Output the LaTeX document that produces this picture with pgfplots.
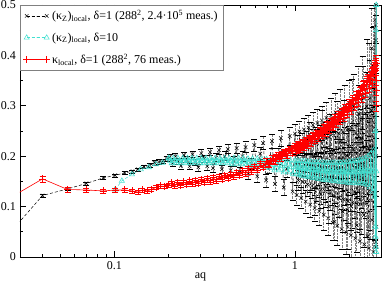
\documentclass[border=0pt]{standalone}
\usepackage{fontspec}
\setmainfont{Liberation Serif}
\usepackage{pgfplots}
\usepackage{pgfplotstable}
\pgfplotsset{compat=1.18}
\definecolor{turq}{RGB}{64,224,208}

\pgfplotstableread{
x y e
0.0218 0.014 0.005
0.040 0.122 0.003
0.055 0.135 0.003
0.070 0.146 0.003
0.087 0.157 0.003
0.101 0.162 0.003
0.114 0.167 0.003
0.126 0.170 0.003
0.135 0.174 0.003
0.146 0.179 0.003
0.157 0.182 0.004
0.167 0.187 0.004
0.177 0.189 0.004
0.186 0.190 0.004
0.195 0.194 0.005
0.203 0.198 0.005
0.210 0.186 0.005
0.218 0.200 0.005
0.226 0.190 0.005
0.234 0.181 0.006
0.243 0.202 0.006
0.252 0.193 0.006
0.261 0.180 0.006
0.271 0.204 0.006
0.281 0.188 0.006
0.292 0.178 0.007
0.303 0.206 0.007
0.315 0.195 0.007
0.327 0.180 0.007
0.339 0.208 0.007
0.352 0.176 0.008
0.366 0.197 0.008
0.380 0.212 0.008
0.394 0.174 0.008
0.409 0.200 0.009
0.425 0.214 0.009
0.441 0.172 0.009
0.458 0.190 0.009
0.476 0.216 0.010
0.494 0.168 0.010
0.513 0.200 0.010
0.533 0.218 0.011
0.553 0.165 0.011
0.574 0.185 0.011
0.596 0.222 0.012
0.619 0.160 0.012
0.643 0.205 0.012
0.667 0.226 0.013
0.693 0.152 0.013
0.720 0.180 0.014
0.747 0.230 0.014
0.776 0.145 0.015
0.805 0.200 0.015
0.836 0.236 0.016
0.868 0.138 0.016
0.902 0.175 0.017
0.936 0.240 0.018
0.972 0.130 0.018
1.000 0.245 0.019
1.012 0.185 0.019
1.023 0.123 0.020
1.035 0.222 0.020
1.047 0.152 0.020
1.060 0.249 0.021
1.072 0.184 0.021
1.084 0.117 0.021
1.096 0.224 0.022
1.109 0.149 0.022
1.122 0.253 0.022
1.135 0.183 0.023
1.148 0.110 0.023
1.161 0.226 0.023
1.175 0.144 0.024
1.189 0.257 0.024
1.202 0.181 0.024
1.216 0.104 0.025
1.230 0.228 0.025
1.245 0.141 0.025
1.259 0.262 0.026
1.274 0.180 0.026
1.288 0.097 0.026
1.303 0.230 0.027
1.318 0.137 0.027
1.334 0.266 0.027
1.349 0.180 0.028
1.365 0.091 0.028
1.380 0.233 0.028
1.396 0.134 0.029
1.413 0.271 0.029
1.429 0.178 0.030
1.445 0.084 0.030
1.462 0.236 0.031
1.479 0.130 0.031
1.496 0.276 0.032
1.514 0.177 0.032
1.531 0.077 0.033
1.549 0.238 0.033
1.567 0.126 0.034
1.585 0.281 0.034
1.603 0.176 0.035
1.622 0.068 0.035
1.641 0.241 0.036
1.660 0.121 0.036
1.679 0.287 0.037
1.698 0.176 0.037
1.718 0.062 0.038
1.738 0.245 0.038
1.758 0.117 0.039
1.778 0.293 0.039
1.799 0.176 0.040
1.820 0.055 0.040
1.841 0.248 0.041
1.862 0.114 0.042
1.884 0.299 0.042
1.905 0.175 0.043
1.928 0.049 0.044
1.950 0.252 0.044
1.972 0.111 0.045
1.995 0.305 0.046
2.018 0.175 0.047
2.042 0.043 0.048
2.065 0.256 0.049
2.089 0.108 0.050
2.113 0.312 0.051
2.138 0.176 0.052
2.163 0.037 0.053
2.188 0.261 0.054
2.213 0.105 0.055
2.239 0.322 0.056
2.265 0.178 0.057
2.291 0.031 0.058
2.317 0.271 0.059
2.344 0.105 0.060
2.371 0.337 0.062
2.399 0.183 0.063
2.427 0.025 0.064
2.455 0.285 0.066
2.483 0.106 0.067
2.512 0.364 0.069
2.541 0.196 0.071
2.570 0.017 0.073
2.600 0.315 0.075
2.630 0.112 0.077
2.661 0.414 0.079
2.692 0.220 0.081
2.723 0.010 0.084
2.754 0.370 0.087
2.786 0.126 0.090
2.800 0.460 0.095
2.810 0.020 0.100
2.818 0.500 0.100
2.825 0.250 0.100
2.828 0.020 0.100
}\blackdata

\pgfplotstableread{
x y e
1.205 0.243 0.024
1.240 0.157 0.025
1.270 0.200 0.026
1.300 0.109 0.027
1.330 0.226 0.027
1.360 0.171 0.028
1.390 0.125 0.029
1.420 0.262 0.030
1.450 0.188 0.030
1.480 0.139 0.031
1.510 0.217 0.032
1.540 0.100 0.033
1.570 0.249 0.034
1.600 0.155 0.035
1.630 0.211 0.036
1.660 0.070 0.036
1.690 0.176 0.037
1.720 0.272 0.038
1.750 0.118 0.039
1.780 0.229 0.039
1.810 0.194 0.040
1.840 0.090 0.041
1.870 0.269 0.042
1.900 0.145 0.043
1.930 0.201 0.044
1.960 0.060 0.045
1.990 0.253 0.046
2.020 0.170 0.047
2.050 0.101 0.048
2.080 0.302 0.050
2.110 0.214 0.051
2.140 0.129 0.052
2.170 0.246 0.053
2.200 0.063 0.054
2.230 0.183 0.055
2.260 0.284 0.057
2.290 0.114 0.058
2.320 0.235 0.059
2.350 0.157 0.060
2.380 0.316 0.062
2.410 0.083 0.063
2.440 0.218 0.065
2.470 0.142 0.066
2.500 0.299 0.068
2.530 0.041 0.070
2.560 0.216 0.072
2.590 0.350 0.074
2.620 0.130 0.076
2.650 0.291 0.078
2.680 0.073 0.080
2.710 0.373 0.083
2.740 0.211 0.086
2.770 0.470 0.089
2.790 0.125 0.092
2.800 0.330 0.095
2.810 0.030 0.100
2.815 0.430 0.100
2.820 0.200 0.100
2.825 0.380 0.100
2.828 0.060 0.100
}\blackextra

\pgfplotstableread{
x y
0.101 0.134
0.110 0.151
0.125 0.164
0.140 0.174
0.155 0.178
0.170 0.184
0.185 0.187
0.200 0.196
}\cyanlow

\pgfplotstableread{
x y
0.200 0.196
0.204 0.191
0.208 0.186
0.212 0.196
0.216 0.191
0.221 0.186
0.225 0.196
0.230 0.191
0.234 0.186
0.239 0.196
0.244 0.191
0.249 0.186
0.254 0.196
0.259 0.191
0.264 0.186
0.269 0.196
0.275 0.191
0.280 0.186
0.286 0.196
0.291 0.191
0.297 0.186
0.303 0.196
0.309 0.191
0.316 0.186
0.322 0.196
0.328 0.191
0.335 0.186
0.342 0.196
0.348 0.191
0.355 0.186
0.362 0.196
0.370 0.191
0.377 0.186
0.385 0.196
0.392 0.191
0.400 0.186
0.408 0.196
0.416 0.191
0.425 0.186
0.433 0.196
0.442 0.191
0.451 0.184
0.460 0.196
0.469 0.190
0.478 0.184
0.488 0.196
0.498 0.190
0.508 0.184
0.518 0.196
0.528 0.190
0.539 0.184
0.550 0.195
0.561 0.188
0.572 0.181
0.583 0.195
0.595 0.188
0.607 0.181
0.619 0.195
0.631 0.188
0.644 0.181
0.657 0.194
0.670 0.185
0.683 0.177
0.697 0.194
0.711 0.185
0.725 0.177
0.740 0.194
0.755 0.182
0.770 0.172
0.785 0.193
0.801 0.182
0.817 0.172
0.833 0.193
0.850 0.180
0.867 0.168
0.884 0.192
0.902 0.180
0.920 0.168
0.938 0.192
0.957 0.178
0.976 0.165
1.000 0.191
1.012 0.178
1.023 0.164
1.035 0.191
1.047 0.177
1.060 0.163
1.072 0.190
1.084 0.176
1.096 0.161
1.109 0.190
1.122 0.175
1.135 0.160
1.148 0.190
1.161 0.174
1.175 0.159
1.189 0.189
1.202 0.174
1.216 0.158
1.230 0.189
1.245 0.173
1.259 0.157
1.274 0.188
1.288 0.172
1.303 0.156
1.318 0.188
1.334 0.172
1.349 0.155
1.365 0.188
1.380 0.171
1.396 0.154
1.413 0.188
1.429 0.170
1.445 0.153
1.462 0.187
1.479 0.170
1.496 0.152
1.514 0.187
1.531 0.169
1.549 0.152
1.567 0.187
1.585 0.169
1.603 0.151
1.622 0.187
1.641 0.168
1.660 0.150
1.679 0.187
1.698 0.168
1.718 0.150
1.738 0.187
1.758 0.168
1.778 0.149
1.799 0.187
1.820 0.168
1.841 0.149
1.862 0.188
1.884 0.168
1.905 0.148
1.928 0.188
1.950 0.168
1.972 0.147
1.995 0.189
2.018 0.168
2.042 0.147
2.065 0.190
2.089 0.168
2.113 0.147
2.138 0.190
2.163 0.168
2.188 0.146
2.213 0.191
2.239 0.169
2.265 0.146
2.291 0.193
2.317 0.169
2.344 0.146
2.371 0.194
2.399 0.170
2.427 0.145
2.455 0.196
2.483 0.170
2.512 0.143
2.541 0.200
2.570 0.170
2.600 0.138
2.630 0.205
2.661 0.170
2.692 0.130
2.723 0.212
2.754 0.120
2.786 0.060
2.790 0.250
2.800 0.040
2.805 0.350
2.810 0.020
2.815 0.450
2.820 0.010
2.825 0.500
2.828 0.170
}\cyandata

\pgfplotstableread{
x y e
0.0218 0.100 0.006
0.040 0.155 0.006
0.055 0.134 0.005
0.070 0.133 0.004
0.087 0.131 0.004
0.101 0.133 0.004
0.114 0.133 0.004
0.126 0.131 0.004
0.135 0.129 0.004
0.143 0.133 0.004
0.152 0.131 0.004
0.160 0.134 0.004
0.170 0.138 0.004
0.180 0.141 0.004
0.190 0.140 0.004
0.200 0.143 0.004
0.208 0.147 0.004
0.216 0.141 0.004
0.224 0.148 0.004
0.233 0.142 0.004
0.242 0.149 0.004
0.251 0.144 0.004
0.261 0.151 0.004
0.271 0.145 0.004
0.281 0.152 0.004
0.292 0.146 0.004
0.303 0.154 0.004
0.315 0.148 0.004
0.327 0.156 0.004
0.339 0.149 0.004
0.352 0.158 0.004
0.366 0.151 0.004
0.380 0.160 0.004
0.394 0.154 0.004
0.409 0.162 0.004
0.425 0.156 0.004
0.441 0.165 0.004
0.458 0.159 0.004
0.476 0.168 0.004
0.494 0.162 0.004
0.513 0.172 0.004
0.533 0.165 0.004
0.553 0.176 0.004
0.574 0.169 0.004
0.596 0.180 0.004
0.619 0.173 0.004
0.643 0.185 0.004
0.667 0.178 0.004
0.693 0.190 0.005
0.720 0.183 0.005
0.747 0.196 0.005
0.776 0.189 0.005
0.805 0.202 0.005
0.836 0.195 0.005
0.868 0.208 0.005
0.902 0.201 0.005
0.936 0.214 0.005
0.972 0.206 0.005
1.000 0.220 0.005
1.023 0.210 0.005
1.047 0.224 0.005
1.072 0.213 0.005
1.096 0.228 0.005
1.122 0.217 0.005
1.148 0.232 0.005
1.175 0.221 0.005
1.202 0.237 0.005
1.230 0.225 0.005
1.259 0.242 0.005
1.288 0.230 0.005
1.318 0.247 0.005
1.349 0.235 0.005
1.380 0.252 0.005
1.413 0.240 0.005
1.445 0.258 0.006
1.479 0.245 0.006
1.514 0.264 0.006
1.549 0.251 0.006
1.585 0.270 0.006
1.622 0.257 0.006
1.660 0.277 0.006
1.698 0.263 0.006
1.738 0.283 0.006
1.778 0.269 0.006
1.820 0.290 0.006
1.862 0.276 0.006
1.905 0.297 0.006
1.950 0.283 0.006
1.995 0.305 0.007
2.042 0.291 0.007
2.089 0.313 0.007
2.138 0.298 0.007
2.188 0.321 0.007
2.239 0.306 0.007
2.291 0.330 0.007
2.344 0.315 0.007
2.399 0.340 0.008
2.455 0.324 0.008
2.512 0.350 0.008
2.570 0.334 0.008
2.630 0.361 0.008
2.692 0.345 0.008
2.754 0.373 0.009
2.790 0.360 0.010
2.805 0.390 0.010
2.815 0.330 0.010
2.822 0.300 0.010
2.826 0.350 0.010
2.828 0.385 0.010
}\reddata

\pgfplotstableread{
x y e
0.710 0.185 0.005
0.735 0.191 0.005
0.760 0.191 0.005
0.790 0.199 0.005
0.820 0.198 0.005
0.850 0.205 0.005
0.885 0.205 0.005
0.920 0.211 0.005
0.955 0.211 0.005
0.990 0.217 0.005
1.035 0.216 0.005
1.060 0.222 0.005
1.085 0.220 0.005
1.110 0.226 0.005
1.135 0.224 0.005
1.160 0.230 0.005
1.190 0.230 0.005
1.215 0.235 0.005
1.245 0.234 0.005
1.270 0.240 0.005
1.300 0.239 0.005
1.335 0.244 0.005
1.360 0.244 0.005
1.395 0.250 0.005
1.430 0.248 0.006
1.460 0.255 0.006
1.495 0.254 0.006
1.530 0.261 0.006
1.565 0.259 0.006
1.600 0.267 0.006
1.640 0.265 0.006
1.680 0.274 0.006
1.720 0.272 0.006
1.760 0.280 0.006
1.800 0.280 0.006
1.840 0.287 0.006
1.880 0.287 0.006
1.930 0.294 0.006
1.970 0.296 0.007
2.020 0.302 0.007
2.065 0.304 0.007
2.110 0.310 0.007
2.160 0.313 0.007
2.210 0.322 0.007
2.260 0.321 0.007
2.315 0.331 0.007
2.370 0.331 0.008
2.425 0.342 0.008
2.480 0.342 0.008
2.540 0.354 0.008
2.600 0.355 0.008
2.660 0.366 0.008
2.720 0.367 0.009
2.770 0.378 0.009
2.800 0.370 0.010
}\redextra

\begin{document}
\fontsize{12}{14}\selectfont
\begin{tikzpicture}
\begin{axis}[
  scale only axis, width=361pt, height=252pt,
  xmode=log, xmin=0.03, xmax=3, ymin=0, ymax=0.5,
  xtick={0.1,1}, xticklabels={0.1,1},
  minor xtick={0.04,0.05,0.06,0.07,0.08,0.09,0.2,0.3,0.4,0.5,0.6,0.7,0.8,0.9,2},
  ytick={0,0.1,0.2,0.3,0.4,0.5},
  yticklabels={0,0.1,0.2,0.3,0.4,0.5},
  minor ytick={0.05,0.15,0.25,0.35,0.45},
  tick align=inside, major tick length=6pt, minor tick length=3pt,
  tick style={black, line width=0.6pt},
  axis line style={line width=0.8pt},
  ticklabel style={font=\fontsize{12}{14}\selectfont},
  /pgf/number format/assume math mode=true,
  xlabel={aq}, xlabel style={font=\fontsize{12}{14}\selectfont, yshift=5pt},
  clip mode=individual,
  legend style={at={(0,1)}, anchor=north west, draw=gray, fill=white,
    font=\fontsize{12}{14}\selectfont, row sep=7pt, inner sep=3pt,
    cells={anchor=west}},
  legend image code/.code={\draw[mark repeat=2, mark phase=1, #1] plot coordinates {(0pt,0pt) (10pt,0pt) (20pt,0pt)};},
  blackstyle/.style={black, line width=0.5pt, dash pattern=on 3pt off 2pt, mark=x, mark size=2.5pt, mark options={solid},
    error bars/.cd, y dir=both, y explicit,
    error bar style={gray, densely dotted, line width=0.5pt},
    error mark options={black, solid, rotate=90, mark size=3pt, line width=0.5pt}},
  redstyle/.style={red, line width=0.6pt, mark=+, mark size=3.5pt,
    error bars/.cd, y dir=both, y explicit,
    error bar style={red, line width=0.5pt},
    error mark options={red, rotate=90, mark size=3pt, line width=0.5pt}},
]
\addplot[blackstyle] table[x=x, y=y, y error=e] {\blackdata};
\addlegendentry{(κ\textsubscript{Z})\textsubscript{local}, δ=1 (288\textsuperscript{2}, 2.4·10\textsuperscript{5} meas.)}
\addplot[forget plot, blackstyle] table[x=x, y=y, y error=e] {\blackextra};
\addplot[forget plot, turq, line width=0.5pt, dash pattern=on 3pt off 2pt, mark=triangle, mark size=3pt, mark options={solid, line width=0.6pt}]
  table[x=x, y=y] {\cyanlow};
\addplot[forget plot, turq, line width=0.7pt, mark=triangle, mark size=3pt, mark options={solid, line width=0.6pt}]
  table[x=x, y=y] {\cyandata};
\addlegendimage{turq, line width=0.5pt, dash pattern=on 3pt off 2pt, mark=triangle, mark size=3pt, mark options={solid}}
\addlegendentry{(κ\textsubscript{Z})\textsubscript{local}, δ=10}
\addplot[redstyle] table[x=x, y=y, y error=e] {\reddata};
\addlegendentry{κ\textsubscript{local}, δ=1 (288\textsuperscript{2}, 76 meas.)}
\addplot[forget plot, redstyle] table[x=x, y=y, y error=e] {\redextra};
\end{axis}
\pgfresetboundingbox
\path[use as bounding box] ([shift={(-20pt,-26pt)}]current axis.south west) rectangle ([shift={(1pt,5pt)}]current axis.north east);
\end{tikzpicture}
\end{document}
